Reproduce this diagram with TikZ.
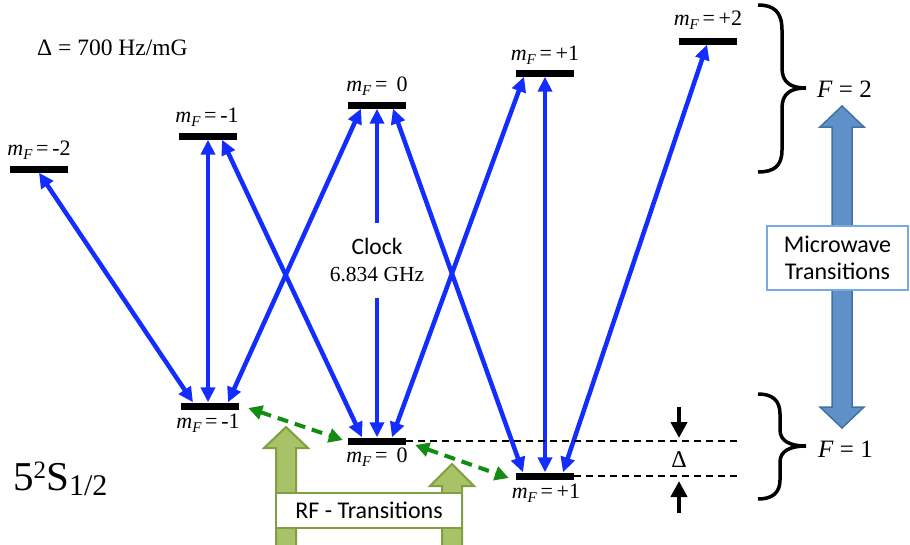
\documentclass[tikz,border=0pt]{standalone}
\usepackage{fontspec}
\setmainfont{Liberation Serif}
\newfontfamily\carl{Carlito}
\usetikzlibrary{arrows.meta,calc}
\definecolor{blu}{RGB}{20,45,255}
\definecolor{grn}{RGB}{20,140,20}
\definecolor{mwfill}{RGB}{95,145,200}
\definecolor{mwdraw}{RGB}{65,113,156}
\definecolor{mwbox}{RGB}{120,170,225}
\definecolor{rffill}{RGB}{168,194,104}
\definecolor{rfdraw}{RGB}{128,158,66}
\newcommand\mFlab[1]{\textit{m}\raisebox{-0.4ex}{\fontsize{15}{15}\selectfont\textit{F}}\,=\,#1}
\tikzset{
 lvl/.style={fill=black,minimum width=58pt,minimum height=7pt,inner sep=0pt},
 lab/.style={font=\fontsize{22}{22}\selectfont,inner sep=0pt,anchor=base},
 tr/.style={blu,line width=4.5pt,{Triangle[length=15pt,width=14pt]}-{Triangle[length=15pt,width=14pt]}},
 rfa/.style={grn,line width=4pt,dash pattern=on 11pt off 7pt,{Triangle[length=14pt,width=14pt]}-{Triangle[length=14pt,width=14pt]}},
 lvldash/.style={black,line width=2pt,dash pattern=on 7pt off 5pt},
 delta/.style={black,line width=4pt,-{Triangle[length=16pt,width=16pt]}},
 brc/.style={black,line width=3.5pt},
 big/.style={font=\fontsize{25}{25}\selectfont,inner sep=0pt,anchor=base west},
 cbox/.style={fill=white,inner sep=0pt,align=center,font=\carl\fontsize{24}{27}\selectfont}
}
\begin{document}
\begin{tikzpicture}[x=1pt,y=-1pt]
\useasboundingbox (0,0) rectangle (910,544);
% levels
\node[lvl] (u-2) at (39,169) {};
\node[lvl] (u-1) at (208,136) {};
\node[lvl] (u0) at (377,105) {};
\node[lvl] (u+1) at (545,73) {};
\node[lvl] (u+2) at (708,41) {};
\node[lvl] (l-1) at (210,406) {};
\node[lvl] (l0) at (377,441) {};
\node[lvl] (l+1) at (545,476) {};
% labels
\node[lab] at (39,155) {\mFlab{-2}};
\node[lab] at (207,122) {\mFlab{-1}};
\node[lab] at (377,91) {\mFlab{\ 0}};
\node[lab] at (545,60) {\mFlab{+1}};
\node[lab] at (708,25) {\mFlab{+2}};
\node[lab] at (208,428) {\mFlab{-1}};
\node[lab] at (377,462) {\mFlab{\ 0}};
\node[lab] at (546,498) {\mFlab{+1}};
\node[inner sep=0pt,anchor=base west,font=\fontsize{23.5}{23.5}\selectfont] (dlt) at (37,55) {Δ = 700 Hz/mG};
\node[inner sep=0pt,anchor=base west,font=\fontsize{41}{41}\selectfont] (term) at (13,490) {5\raisebox{0.6ex}{\fontsize{25}{25}\selectfont 2}S\raisebox{-0.3ex}{\fontsize{30}{30}\selectfont 1/2}};
% microwave transitions
\draw[tr] (u-2.south) -- ([xshift=-17pt]l-1.north);
\draw[tr] (u-1.south) -- ([xshift=-2pt]l-1.north);
\draw[tr] ([xshift=14pt]u-1.south) -- ([xshift=-15pt]l0.north);
\draw[tr] ([xshift=18pt]l-1.north) -- ([xshift=-16pt]u0.south);
\draw[tr] (u0.south) -- (l0.north);
\draw[tr] ([xshift=15pt]l0.north) -- ([xshift=-21pt]u+1.south);
\draw[tr] ([xshift=16pt]u0.south) -- ([xshift=-22pt]l+1.north);
\draw[tr] (u+1.south) -- (l+1.north);
\draw[tr] ([xshift=18pt]l+1.north) -- ([xshift=-1pt]u+2.south);
\node[cbox,minimum height=75pt,font=\fontsize{21.5}{27}\selectfont] (clk) at (377,260) {{\carl\fontsize{23.5}{23.5}\selectfont Clock}\\6.834 GHz};
% RF transitions
\draw[rfa] ([xshift=9pt,yshift=-2pt]l-1.east) -- ([xshift=-5pt,yshift=1pt]l0.west);
\draw[rfa] ([xshift=9pt,yshift=-4pt]l0.east) -- ([xshift=-7pt,yshift=-2pt]l+1.west);
% dashed level lines
\coordinate (e0) at (742,441);
\coordinate (e1) at (742,476);
\draw[lvldash] (l0.east) -- (e0);
\draw[lvldash] (l+1.east) -- (e1);
\coordinate (da) at (679,407);
\coordinate (db) at (679,438);
\coordinate (dc) at (679,513);
\coordinate (dd) at (679,481);
\draw[delta] (da) -- (db);
\draw[delta] (dc) -- (dd);
\node[inner sep=0pt,font=\fontsize{24}{24}\selectfont] (dl) at (679,460) {Δ};
% braces
\draw[brc] (758,5) .. controls (774,5) and (782,12) .. (782,30) -- (782,68) .. controls (782,82) and (790,88) .. (806,88) .. controls (790,88) and (782,94) .. (782,108) -- (782,150) .. controls (782,166) and (774,172) .. (758,172);
\draw[brc] (758,394) .. controls (772,394) and (780,400) .. (780,414) -- (780,430) .. controls (780,441) and (790,446) .. (806,446) .. controls (790,446) and (780,451) .. (780,462) -- (780,480) .. controls (780,493) and (772,499) .. (758,499);
\node[big] (F2) at (817,97) {\textit{F} = 2};
\node[big] (F1) at (818,457) {\textit{F} = 1};
% big microwave arrow
\draw[mwdraw,fill=mwfill,line width=1.5pt,line join=miter] (842,106) -- (864,127) -- (852,127) -- (852,407) -- (864,407) -- (842,428) -- (820,407) -- (832,407) -- (832,127) -- (820,127) -- cycle;
\node[cbox,draw=mwbox,line width=1.5pt,minimum width=141pt,minimum height=64pt] (mw) at (837.5,258) {Microwave\\Transitions};
% RF big arrows
\draw[rfdraw,fill=rffill,line width=2pt,line join=miter] (286,427) -- (308,448) -- (296,448) -- (296,550) -- (276,550) -- (276,448) -- (264,448) -- cycle;
\draw[rfdraw,fill=rffill,line width=2pt,line join=miter] (452,464) -- (474,486) -- (462,486) -- (462,550) -- (442,550) -- (442,486) -- (430,486) -- cycle;
\node[cbox,draw=rfdraw,line width=2pt,minimum width=186pt,minimum height=35pt] (rf) at (369,510.5) {RF - Transitions};
\end{tikzpicture}
\end{document}
